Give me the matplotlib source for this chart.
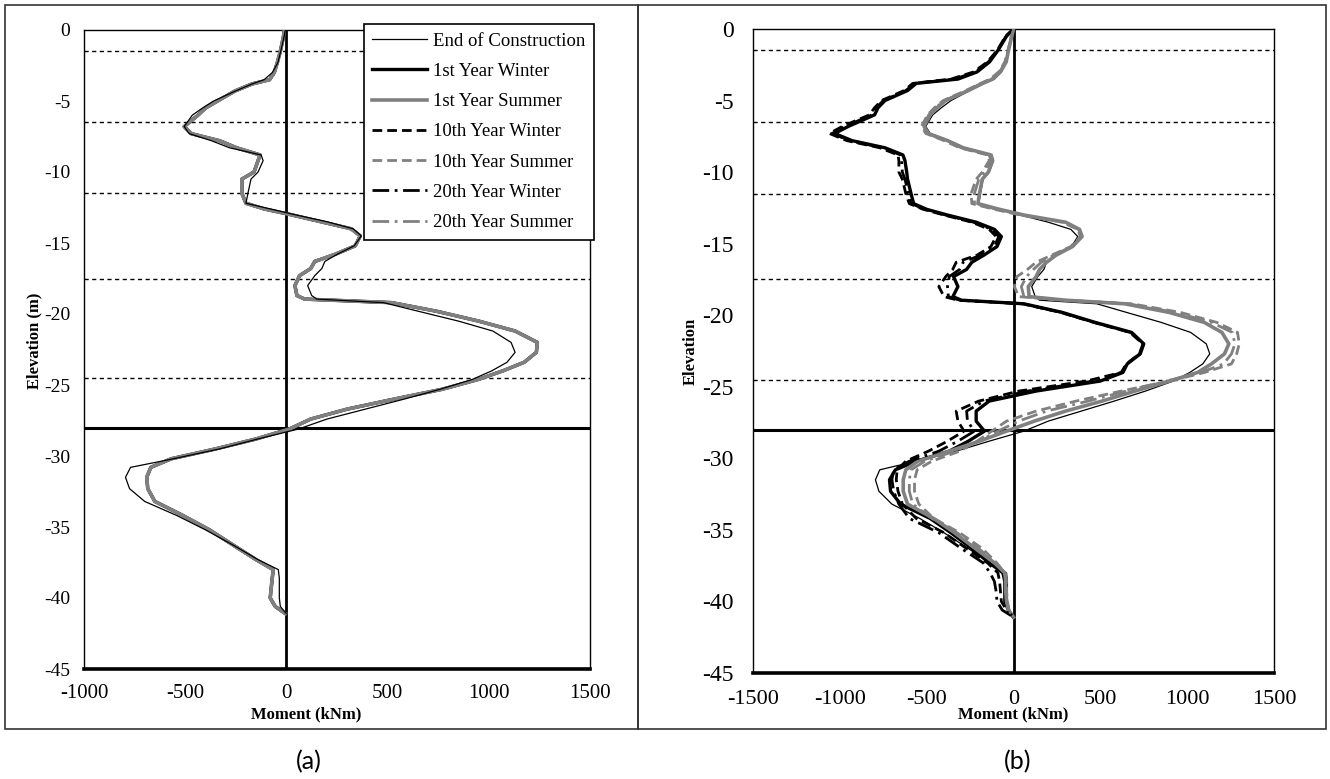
import matplotlib
matplotlib.use("Agg")
import matplotlib.pyplot as plt
from matplotlib.patches import Rectangle

plt.rcParams['font.family'] = ['Liberation Serif', 'DejaVu Serif']
plt.rcParams['axes.unicode_minus'] = False

# elevation (m) of the sampled points along the pile
elev = [0, -0.5, -1.5, -2.3, -3.0, -3.5, -3.8, -4.3, -5.0, -5.5,
        -6.0, -6.8, -7.3, -7.8, -8.3, -8.8, -9.2, -10.0, -10.5, -11.5,
        -12.2, -12.6, -13.0, -13.5, -14.0, -14.5, -15.2, -15.8, -16.3, -16.8,
        -17.3, -18.0, -18.7, -18.95, -19.2, -19.8, -20.5, -21.2, -22.0, -22.7,
        -23.4, -24.0, -24.6, -25.3, -26.0, -26.7, -27.4, -28.1, -28.8, -29.5,
        -30.2, -30.8, -31.5, -32.3, -33.2, -34.2, -35.2, -36.3, -37.3, -38.0,
        -38.6, -39.3, -40.0, -40.6, -41.1]

# moment (kNm), end of construction (same in both panels)
end_constr = [-5, -12, -28, -42, -70, -110, -170, -252, -360, -415,
              -465, -505, -480, -370, -280, -125, -115, -140, -175, -190,
              -200, -80, 40, 200, 330, 370, 335, 250, 190, 175,
              140, 105, 125, 150, 480, 650, 850, 1020, 1110, 1130,
              1090, 1015, 920, 760, 580, 390, 200, 60, -140, -330,
              -560, -770, -795, -775, -700, -540, -400, -260, -140, -40,
              -35, -35, -35, -30, 0]

# panel (a): all seasonal runs lie on top of each other
a_season = [-10, -15, -30, -45, -60, -83, -170, -255, -340, -400,
            -437, -505, -470, -330, -245, -130, -140, -160, -220, -220,
            -200, -110, 20, 170, 320, 365, 340, 240, 140, 120,
            65, 42, 52, 90, 520, 740, 950, 1130, 1240, 1235,
            1175, 1070, 950, 770, 530, 300, 120, 15, -150, -350,
            -570, -670, -690, -685, -650, -510, -380, -260, -150, -65,
            -70, -75, -80, -55, -5]

# panel (b)
b_win1 = [0, -40, -90, -138, -210, -320, -560, -610, -740, -780,
          -800, -950, -1030, -930, -740, -637, -625, -615, -610, -590,
          -575, -500, -380, -215, -110, -70, -95, -170, -240, -270,
          -345, -320, -349, -300, 60, 280, 470, 680, 750, 730,
          655, 630, 500, 130, -140, -215, -215, -167, -260, -370,
          -560, -680, -714, -708, -650, -480, -360, -240, -140, -61,
          -50, -50, -50, -30, 0]
b_sum1 = [0, -10, -29, -42, -75, -120, -177, -260, -390, -440,
          -480, -515, -490, -380, -290, -130, -120, -145, -180, -196,
          -205, -81, 60, 300, 380, 395, 340, 246, 190, 150,
          130, 85, 90, 300, 640, 895, 1098, 1200, 1240, 1215,
          1140, 1060, 900, 700, 510, 300, 120, -40, -196, -370,
          -550, -620, -635, -635, -610, -460, -340, -220, -110, -50,
          -45, -45, -40, -30, 0]
b_win10 = [0, -45, -95, -150, -230, -360, -580, -630, -760, -800,
           -830, -985, -1060, -960, -770, -665, -660, -660, -640, -620,
           -600, -520, -400, -240, -140, -100, -130, -210, -330, -350,
           -390, -430, -400, -320, 50, 270, 460, 670, 745, 725,
           650, 620, 420, 30, -200, -330, -320, -285, -380, -490,
           -620, -670, -675, -665, -640, -560, -400, -270, -150, -90,
           -80, -75, -70, -40, 0]
b_sum10 = [0, -12, -32, -50, -85, -135, -190, -275, -405, -455,
           -495, -530, -505, -400, -310, -150, -140, -180, -215, -244,
           -240, -110, 40, 280, 370, 385, 330, 220, 130, 80,
           20, 5, 30, 280, 680, 960, 1170, 1290, 1300, 1285,
           1255, 1100, 900, 620, 360, 130, -40, -125, -210, -310,
           -470, -555, -570, -570, -545, -460, -310, -180, -97, -50,
           -40, -40, -35, -25, 0]
b_win20 = [0, -42, -92, -145, -220, -340, -570, -620, -750, -790,
           -815, -970, -1045, -945, -755, -650, -645, -640, -625, -605,
           -590, -510, -390, -230, -125, -85, -110, -190, -290, -310,
           -370, -380, -375, -310, 55, 275, 465, 675, 748, 728,
           652, 625, 460, 80, -170, -270, -265, -225, -320, -430,
           -600, -690, -700, -690, -660, -600, -430, -300, -175, -135,
           -110, -100, -95, -65, 0]
b_sum20 = [0, -11, -30, -46, -80, -128, -184, -268, -398, -448,
           -488, -522, -498, -390, -300, -140, -130, -165, -200, -225,
           -225, -95, 50, 290, 375, 390, 335, 232, 160, 115,
           75, 45, 60, 290, 660, 930, 1140, 1260, 1275, 1255,
           1210, 1080, 880, 650, 430, 190, 30, -90, -200, -340,
           -510, -590, -600, -600, -580, -470, -325, -200, -105, -50,
           -42, -42, -38, -28, 0]

names = ['End of Construction', '1st Year Winter', '1st Year Summer',
         '10th Year Winter', '10th Year Summer', '20th Year Winter', '20th Year Summer']
layer_elev = [-1.5, -6.5, -11.5, -17.5, -24.5]
base_elev = -28

gray = '#808080'
dash = (0, (3.5, 1.8))
dashdot = (0, (6, 2, 1, 2))
# colour, width, style, zorder in panel (a)
styles = [('black', 0.9, '-', 6), ('black', 2.4, '-', 2), (gray, 2.6, '-', 4),
          ('black', 2.0, dash, 3), (gray, 2.0, dash, 5),
          ('black', 2.0, dashdot, 3), (gray, 2.0, dashdot, 5)]

W, H = 1330, 779
fig = plt.figure(figsize=(W / 100, H / 100), dpi=100)


def fx(px):
    return px / W


def fy(py):
    return 1 - py / H


def setup(ax, xlim, xticks, ylab, fs_y, fs_x, pad_y, pad_x):
    ax.set_xlim(xlim)
    ax.set_ylim(-45, 0)
    ax.set_xticks(xticks)
    ax.set_yticks(range(-45, 1, 5))
    ax.tick_params(axis='y', length=0, labelsize=fs_y, pad=pad_y)
    ax.tick_params(axis='x', length=0, labelsize=fs_x, pad=pad_x)
    for s in ['left', 'top', 'right']:
        ax.spines[s].set_linewidth(1.0)
    ax.spines['bottom'].set_linewidth(2.6)
    for y in layer_elev:
        ax.axhline(y, color='black', lw=1.0, ls=(0, (3, 2.5)), zorder=1)
    ax.axhline(base_elev, color='black', lw=2.2, zorder=1)
    ax.axvline(0, color='black', lw=2.0, zorder=1)
    ax.set_ylabel(ylab, fontsize=12, fontweight='bold')
    ax.set_xlabel('Moment (kNm)', fontsize=12, fontweight='bold')


# panel (a)
ax_a = fig.add_axes([fx(84), fy(669), fx(590) - fx(84), fy(30) - fy(669)])
setup(ax_a, (-1000, 1500), range(-1000, 1501, 500), 'Elevation (m)', 14, 15, 10, 11)
ax_a.xaxis.set_label_coords(0.44, -0.058)
ax_a.yaxis.set_label_coords(-0.082, 0.513)
series_a = [end_constr] + [a_season] * 6
handles = []
for vals, name, (c, lw, ls, z) in zip(series_a, names, styles):
    h, = ax_a.plot(vals, elev, color=c, lw=lw, ls=ls, zorder=z, label=name)
    handles.append(h)
leg = ax_a.legend(handles=handles, loc='upper right',
                  bbox_to_anchor=(fx(594), fy(24)), bbox_transform=fig.transFigure,
                  fontsize=13.5, frameon=True, fancybox=False, framealpha=1,
                  edgecolor='black', labelspacing=0.7, handlelength=2.9,
                  handletextpad=0.35, borderpad=0.45, borderaxespad=0)
leg.get_frame().set_linewidth(1.2)
leg.set_zorder(10)

# panel (b)
ax_b = fig.add_axes([fx(753), fy(673), fx(1274) - fx(753), fy(29) - fy(673)])
setup(ax_b, (-1500, 1500), range(-1500, 1501, 500), 'Elevation', 17, 16, 14, 12)
ax_b.xaxis.set_label_coords(0.5, -0.052)
ax_b.yaxis.set_label_coords(-0.105, 0.50)
series_b = [end_constr, b_win1, b_sum1, b_win10, b_sum10, b_win20, b_sum20]
for vals, name, (c, lw, ls, z) in zip(series_b, names, styles):
    ax_b.plot(vals, elev, color=c, lw=lw, ls=ls, zorder=3, label=name)

# outer frames and captions
for x0, x1 in [(4.5, 638), (638, 1326)]:
    fig.add_artist(Rectangle((fx(x0), fy(729)), fx(x1) - fx(x0), fy(4.5) - fy(729),
                             transform=fig.transFigure, fill=False, lw=1.2,
                             ec='#333333'))
fig.text(fx(309), fy(762), '(a)', ha='center', va='center', fontsize=18, family='Lato')
fig.text(fx(1018), fy(762), '(b)', ha='center', va='center', fontsize=18, family='Lato')

fig.savefig('out.png', dpi=100)
